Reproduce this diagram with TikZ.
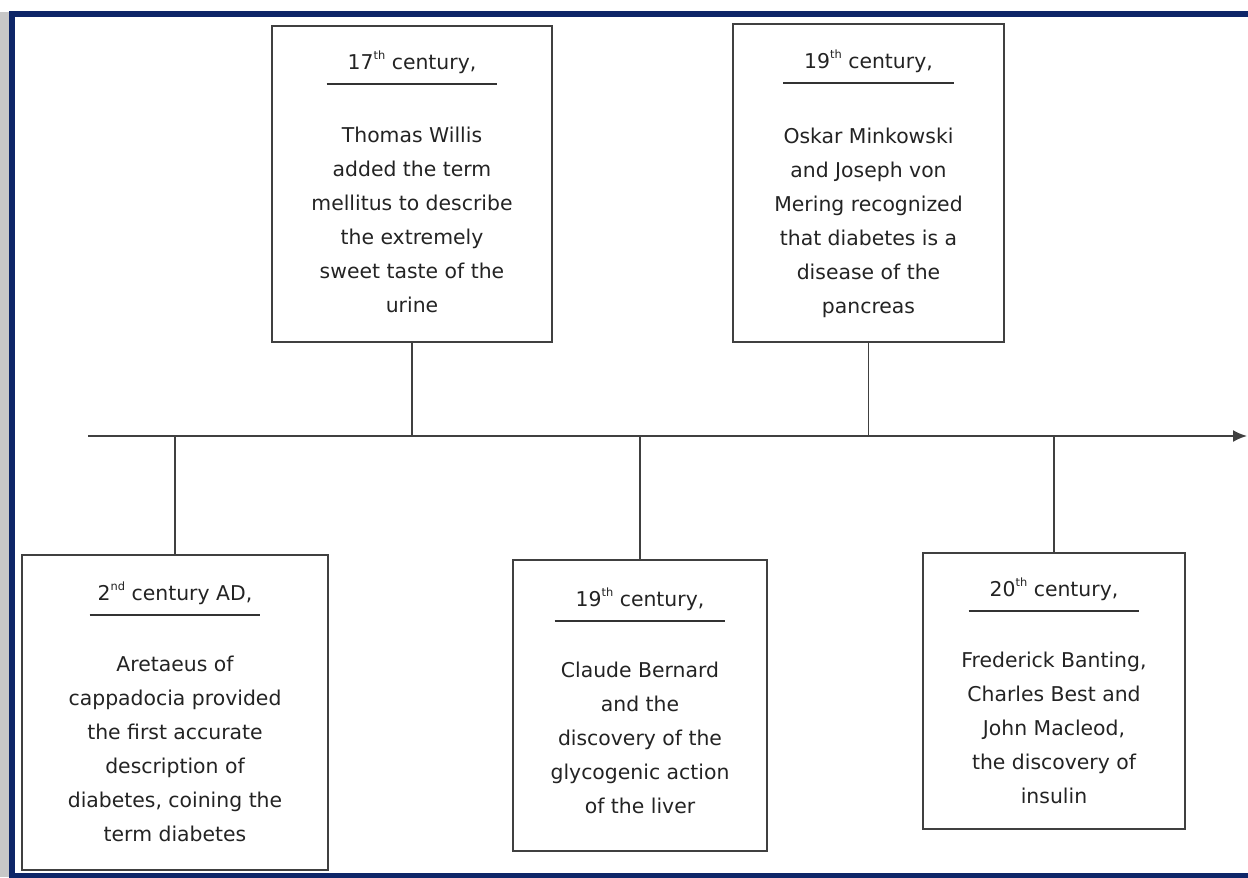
\documentclass[tikz,border=0pt]{standalone}
\usepackage{fontspec}
\setmainfont{DejaVu Sans}
\usetikzlibrary{arrows.meta,fit}
\definecolor{framenavy}{RGB}{14,38,104}
\definecolor{inkgray}{RGB}{35,35,35}
\newcommand{\ord}[1]{\raisebox{0.5em}{\fontsize{6.5}{7}\selectfont #1}}

\begin{document}
\begin{tikzpicture}[x=0.02cm, y=-0.02cm,
    eventbox/.style={draw=black!75, line width=1.3pt, inner sep=0pt},
    period/.style={anchor=base, inner sep=0pt, text=inkgray, font=\fontsize{11.6}{14}\selectfont},
    story/.style={anchor=north, inner sep=0pt, align=center, text=inkgray, font=\fontsize{11.6}{19.35}\selectfont},
    headrule/.style={draw=black!80, line width=1.1pt},
    stem/.style={draw=black!75, line width=1.1pt}]
    \useasboundingbox (0,0) rectangle (1248,877);
    % Page frame
    \fill[black!22] (0,12) rectangle (9,877);
    \draw[framenavy, line width=0.11cm] (12,14) rectangle (1262,876);

    % Time axis
    \coordinate (axisl) at (88,436);
    \coordinate (axisr) at (1247,436);
    \draw[stem, -{Latex[length=0.28cm, width=0.24cm]}] (axisl) -- (axisr);

    % Events above the axis
    \node[eventbox, fit={(272,26) (552,342)}] (willis) {};
    \node[period] (willis-head) at ([yshift=-0.9cm]willis.north) {17\ord{th} century,};
    \draw[headrule] ([xshift=-1.71cm, yshift=-0.28cm]willis-head.base) -- ([xshift=1.71cm, yshift=-0.28cm]willis-head.base);
    \node[story] (willis-text) at ([yshift=-2.04cm]willis.north) {Thomas Willis\\added the term\\mellitus to describe\\the extremely\\sweet taste of the\\urine};

    \node[eventbox, fit={(733,24) (1004,342)}] (minkowski) {};
    \node[period] (minkowski-head) at ([yshift=-0.92cm]minkowski.north) {19\ord{th} century,};
    \draw[headrule] ([xshift=-1.71cm, yshift=-0.28cm]minkowski-head.base) -- ([xshift=1.71cm, yshift=-0.28cm]minkowski-head.base);
    \node[story] (minkowski-text) at ([yshift=-2.1cm]minkowski.north) {Oskar Minkowski\\and Joseph von\\Mering recognized\\that diabetes is a\\disease of the\\pancreas};

    % Events below the axis
    \node[eventbox, fit={(22,555) (328,870)}] (aretaeus) {};
    \node[period] (aretaeus-head) at ([yshift=-0.94cm]aretaeus.north) {2\ord{nd} century AD,};
    \draw[headrule] ([xshift=-1.71cm, yshift=-0.28cm]aretaeus-head.base) -- ([xshift=1.71cm, yshift=-0.28cm]aretaeus-head.base);
    \node[story] (aretaeus-text) at ([yshift=-2.04cm]aretaeus.north) {Aretaeus of\\cappadocia provided\\the first accurate\\description of\\diabetes, coining the\\term diabetes};

    \node[eventbox, fit={(513,560) (767,851)}] (bernard) {};
    \node[period] (bernard-head) at ([yshift=-0.96cm]bernard.north) {19\ord{th} century,};
    \draw[headrule] ([xshift=-1.71cm, yshift=-0.28cm]bernard-head.base) -- ([xshift=1.71cm, yshift=-0.28cm]bernard-head.base);
    \node[story] (bernard-text) at ([yshift=-2.06cm]bernard.north) {Claude Bernard\\and the\\discovery of the\\glycogenic action\\of the liver};

    \node[eventbox, fit={(923,553) (1185,829)}] (banting) {};
    \node[period] (banting-head) at ([yshift=-0.9cm]banting.north) {20\ord{th} century,};
    \draw[headrule] ([xshift=-1.71cm, yshift=-0.28cm]banting-head.base) -- ([xshift=1.71cm, yshift=-0.28cm]banting-head.base);
    \node[story] (banting-text) at ([yshift=-2.0cm]banting.north) {Frederick Banting,\\Charles Best and\\John Macleod,\\the discovery of\\insulin};

    % Stems to the axis
    \draw[stem] (willis.south) -- (willis.south |- axisl);
    \draw[stem] (minkowski.south) -- (minkowski.south |- axisl);
    \draw[stem] (aretaeus.north) -- (aretaeus.north |- axisl);
    \draw[stem] (bernard.north) -- (bernard.north |- axisl);
    \draw[stem] (banting.north) -- (banting.north |- axisl);
\end{tikzpicture}
\end{document}
